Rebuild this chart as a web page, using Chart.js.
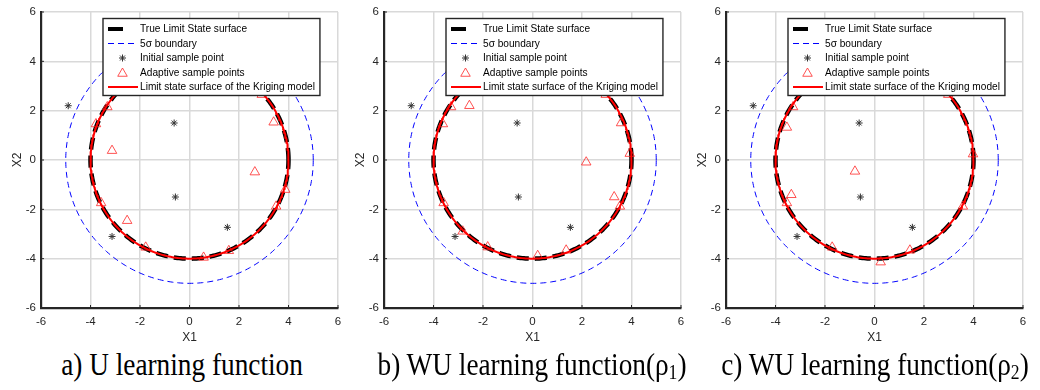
<!DOCTYPE html>
<html><head><meta charset="utf-8">
<script src="https://cdn.jsdelivr.net/npm/chart.js@4.4.0/dist/chart.umd.min.js"></script>
<style>
body{margin:0;background:#fff;width:1040px;height:390px;overflow:hidden;position:relative;}
.panel{position:absolute;top:0;width:350px;height:345px;}
.cap{position:absolute;top:349px;line-height:31px;font-family:'Liberation Serif','Times New Roman',serif;font-size:31px;color:#000;white-space:nowrap;transform:translateX(-50%) scaleX(0.88);}
.cap sub{font-size:20px;line-height:0;vertical-align:-4px;}
</style></head>
<body>
<div class="panel" style="left:0px"><canvas id="c0" width="350" height="345"></canvas></div>
<div class="panel" style="left:343px"><canvas id="c1" width="350" height="345"></canvas></div>
<div class="panel" style="left:685px"><canvas id="c2" width="350" height="345"></canvas></div>
<div class="cap" style="left:182px">a) U learning function</div>
<div class="cap" style="left:532px">b) WU learning function(ρ<sub>1</sub>)</div>
<div class="cap" style="left:875px">c) WU learning function(ρ<sub>2</sub>)</div>
<script>
// ---- data ----
const tickValues = [-6, -4, -2, 0, 2, 4, 6];
const limitStateRadius = 4;      // true limit state surface  x1^2 + x2^2 = 16
const boundaryRadius = 5;        // 5-sigma boundary
const krigingRadius = [4, 4, 4]; // fitted Kriging limit state per panel

const initialX = [-4.90, -0.62, -0.57, 1.53, -3.13];
const initialY = [ 2.20,  1.50, -1.50, -2.73, -3.10];

const adaptAX = [-3.32, -3.78, -3.13, -3.57, -2.52, -1.77, 0.57, 1.59, 2.64, 3.40, 3.87, 3.50, 2.92];
const adaptAY = [ 2.15,  1.46,  0.38, -1.74, -2.46, -3.54, -3.95, -3.68, -0.49, 1.53, -1.20, -1.88, 2.65];

const adaptBX = [-3.29, -2.55, -3.62, -3.59, -2.82, -1.81, 0.21, 1.36, 2.17, 3.30, 3.53, 3.58, 3.93, 2.96];
const adaptBY = [ 2.15,  2.20,  1.46, -1.74, -2.89, -3.53, -3.88, -3.66, -0.09, -1.50, -1.88, 1.50, 0.26, 2.65];

const adaptCX = [-3.29, -3.54, -3.36, -3.54, -0.79, -1.71, 0.25, 1.43, 3.57, 3.98, 2.98];
const adaptCY = [ 2.15,  1.32, -1.41, -1.74, -0.46, -3.54, -4.14, -3.66, -1.88, 0.24, 2.65];

const legendLabels = ['True Limit State surface', '5\u03c3 boundary', 'Initial sample point',
  'Adaptive sample points', 'Limit state surface of the Kriging model'];

// ---- helpers ----
function circle(r) {
  const pts = [];
  for (let i = 0; i <= 360; i++) {
    const t = i * Math.PI / 180;
    pts.push({x: r * Math.cos(t), y: r * Math.sin(t)});
  }
  return pts;
}
const zipXY = (xs, ys) => xs.map((x, i) => ({x, y: ys[i]}));

const FONT = "'Liberation Sans', Arial, sans-serif";

// inward tick marks (MATLAB style)
const innerTicks = {
  id: 'innerTicks',
  afterDatasetsDraw(chart) {
    const ctx = chart.ctx, a = chart.chartArea, sx = chart.scales.x, sy = chart.scales.y;
    ctx.save();
    ctx.strokeStyle = '#262626'; ctx.lineWidth = 1;
    ctx.beginPath();
    tickValues.forEach(v => {
      const px = sx.getPixelForValue(v);
      ctx.moveTo(px, a.bottom); ctx.lineTo(px, a.bottom - 3);
      const py = sy.getPixelForValue(v);
      ctx.moveTo(a.left, py); ctx.lineTo(a.left + 3, py);
    });
    ctx.stroke();
    ctx.restore();
  }
};

const boxLegend = {
  id: 'boxLegend',
  afterDraw(chart) {
    const ctx = chart.ctx, a = chart.chartArea;
    const L = a.left + 62, T = a.top + 6.5;
    const sx = 0.92;
    ctx.save();
    ctx.font = '11px ' + FONT;
    let maxW = 0;
    legendLabels.forEach(t => maxW = Math.max(maxW, ctx.measureText(t).width * sx));
    const W = 37 + maxW + 5, H = 77;
    ctx.fillStyle = '#fff';
    ctx.fillRect(L, T, W, H);
    ctx.strokeStyle = '#262626';
    ctx.lineWidth = 1.4;
    ctx.strokeRect(L, T, W, H);
    const rows = [10.5, 25, 39.5, 54, 68.5].map(v => T + v);
    ctx.strokeStyle = '#000'; ctx.lineWidth = 4; ctx.setLineDash([]);
    ctx.beginPath(); ctx.moveTo(L + 5, rows[0]); ctx.lineTo(L + 20, rows[0]); ctx.stroke();
    ctx.strokeStyle = '#0000ff'; ctx.lineWidth = 1; ctx.setLineDash([6, 4]);
    ctx.beginPath(); ctx.moveTo(L + 5, rows[1]); ctx.lineTo(L + 35, rows[1]); ctx.stroke();
    ctx.setLineDash([]);
    ctx.strokeStyle = '#333'; ctx.lineWidth = 1;
    Chart.helpers.drawPoint(ctx, {pointStyle: 'star', radius: 3.5, rotation: 0, borderWidth: 1}, L + 19.5, rows[2]);
    ctx.strokeStyle = 'rgba(255,40,40,0.8)'; ctx.fillStyle = 'rgba(0,0,0,0)';
    Chart.helpers.drawPoint(ctx, {pointStyle: 'triangle', radius: 5.5, rotation: 0, borderWidth: 1}, L + 19.5, rows[3] + 1);
    ctx.strokeStyle = '#ff0000'; ctx.lineWidth = 2;
    ctx.beginPath(); ctx.moveTo(L + 5, rows[4]); ctx.lineTo(L + 35, rows[4]); ctx.stroke();
    ctx.fillStyle = '#000'; ctx.textBaseline = 'middle'; ctx.textAlign = 'left';
    legendLabels.forEach((t, i) => {
      ctx.save();
      ctx.translate(L + 37, rows[i]);
      ctx.scale(sx, 1);
      ctx.fillText(t, 0, 0);
      ctx.restore();
    });
    ctx.restore();
  }
};

function makeChart(id, adaptX, adaptY, kr) {
  const axisCommon = {
    type: 'linear', min: -6, max: 6,
    afterBuildTicks: s => { s.ticks = tickValues.map(v => ({value: v})); },
    grid: {color: '#d9d9d9', lineWidth: 1.5, drawTicks: false},
    border: {color: '#262626', width: 2.2},
  };
  return new Chart(document.getElementById(id), {
    type: 'scatter',
    data: {
      datasets: [
        {label: legendLabels[1], data: circle(boundaryRadius), showLine: true, pointRadius: 0,
         borderColor: '#0000ff', borderWidth: 1, borderDash: [6, 4], order: 6},
        {label: legendLabels[0], data: circle(limitStateRadius), showLine: true, pointRadius: 0,
         borderColor: '#000', borderWidth: 4.5, borderDash: [12, 6], order: 5},
        {label: legendLabels[3], data: zipXY(adaptX, adaptY), pointStyle: 'triangle', pointRadius: 5.5,
         borderColor: 'rgba(255,40,40,0.8)', backgroundColor: 'rgba(0,0,0,0)', borderWidth: 1, order: 4},
        {label: legendLabels[4], data: circle(kr), showLine: true, pointRadius: 0,
         borderColor: '#ff0000', borderWidth: 2, order: 3},
        {label: legendLabels[2], data: zipXY(initialX, initialY), pointStyle: 'star', pointRadius: 3.5,
         borderColor: '#333', backgroundColor: '#333', borderWidth: 1, order: 2},
      ]
    },
    options: {
      responsive: false, animation: false, devicePixelRatio: 1,
      layout: {padding: {left: 0, top: 12, right: 12, bottom: 0}},
      plugins: {legend: {display: false}, tooltip: {enabled: false}},
      elements: {line: {tension: 0}},
      scales: {
        x: Object.assign({}, axisCommon, {
          position: 'bottom',
          ticks: {font: {family: FONT, size: 11.5}, color: '#262626', padding: 7, maxRotation: 0},
          title: {display: true, text: 'X1', font: {family: FONT, size: 12}, color: '#262626', padding: {top: 0, bottom: 0}},
          afterFit: s => { s.height = 37; }
        }),
        y: Object.assign({}, axisCommon, {
          position: 'left',
          ticks: {font: {family: FONT, size: 11.5}, color: '#262626', padding: 5},
          title: {display: true, text: 'X2', font: {family: FONT, size: 12}, color: '#262626', padding: {top: 10, bottom: 0}},
          afterFit: s => { s.width = 41; }
        })
      }
    },
    plugins: [innerTicks, boxLegend]
  });
}

makeChart('c0', adaptAX, adaptAY, krigingRadius[0]);
makeChart('c1', adaptBX, adaptBY, krigingRadius[1]);
makeChart('c2', adaptCX, adaptCY, krigingRadius[2]);
</script>
</body></html>
